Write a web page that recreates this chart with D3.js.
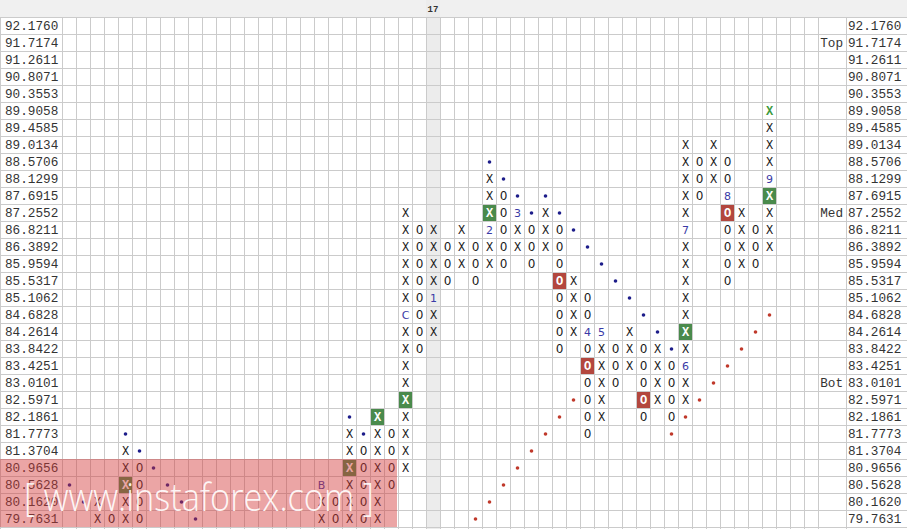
<!DOCTYPE html>
<html><head><meta charset="utf-8">
<script src="https://cdn.jsdelivr.net/npm/d3@7/dist/d3.min.js"></script>
<style>html,body{margin:0;padding:0;background:#fff}svg{display:block}</style>
</head><body>
<svg id="chart" width="907" height="529"></svg>
<script>
// ---- data ----
const priceLabels = ["92.1760","91.7174","91.2611","90.8071","90.3553","89.9058","89.4585","89.0134","88.5706","88.1299","87.6915","87.2552","86.8211","86.3892","85.9594","85.5317","85.1062","84.6828","84.2614","83.8422","83.4251","83.0101","82.5971","82.1861","81.7773","81.3704","80.9656","80.5628","80.1620","79.7631"];
const columnIds = d3.range(54);
const yearLabel = {col: 26, text: "17"};
// [column, type, high box, low box]
const pfColumns = [
  [2,"X","80.1620","79.7631"],[3,"O","79.7631","79.7631"],[4,"X","81.3704","79.7631"],[5,"O","80.9656","79.7631"],
  [18,"X","80.5628","79.7631"],[19,"O","80.1620","79.7631"],[20,"X","81.7773","79.7631"],[21,"O","81.3704","79.7631"],
  [22,"X","82.1861","79.7631"],[23,"O","81.7773","80.5628"],[24,"X","87.2552","80.9656"],[25,"O","86.8211","83.8422"],
  [26,"X","86.8211","84.2614"],[27,"O","86.3892","85.5317"],[28,"X","86.8211","85.9594"],[29,"O","86.3892","85.5317"],
  [30,"X","88.1299","85.9594"],[31,"O","87.6915","85.9594"],[32,"X","87.2552","86.3892"],[33,"O","86.8211","85.9594"],
  [34,"X","87.2552","86.3892"],[35,"O","86.8211","83.8422"],[36,"X","85.5317","84.2614"],[37,"O","85.1062","81.7773"],
  [38,"X","84.2614","82.1861"],[39,"O","83.8422","83.0101"],[40,"X","84.2614","83.4251"],[41,"O","83.8422","82.1861"],
  [42,"X","83.8422","82.5971"],[43,"O","83.4251","82.1861"],[44,"X","89.0134","82.5971"],[45,"O","88.5706","87.6915"],
  [46,"X","89.0134","88.1299"],[47,"O","88.5706","85.5317"],[48,"X","87.2552","85.9594"],[49,"O","86.8211","85.9594"],
  [50,"X","89.9058","86.3892"]
];
// month markers [column, box, label]
const monthMarks = [[18,"80.5628","B"],[24,"84.6828","C"],[26,"85.1062","1"],[30,"86.8211","2"],[32,"87.2552","3"],
  [37,"84.2614","4"],[38,"84.2614","5"],[44,"83.4251","6"],[44,"86.8211","7"],[47,"87.6915","8"],[50,"88.1299","9"]];
// signal boxes [column, box]
const buySignals = [[4,"80.5628"],[20,"80.9656"],[22,"82.1861"],[24,"82.5971"],[30,"87.2552"],[44,"84.2614"],[50,"87.6915"]];
const sellSignals = [[35,"85.5317"],[37,"83.4251"],[41,"82.5971"],[47,"87.2552"]];
const lastBox = [50,"89.9058"];
// trend line dots [column, box]
const resistanceDots = [[0,"80.5628"],[1,"80.1620"],[4,"81.7773"],[5,"81.3704"],[6,"80.9656"],[7,"80.5628"],[8,"80.1620"],[9,"79.7631"],
  [20,"82.1861"],[21,"81.7773"],[30,"88.5706"],[31,"88.1299"],[32,"87.6915"],[33,"87.2552"],
  [34,"87.6915"],[35,"87.2552"],[36,"86.8211"],[37,"86.3892"],[38,"85.9594"],[39,"85.5317"],[40,"85.1062"],[41,"84.6828"],[42,"84.2614"],[43,"83.8422"]];
const supportDots = [[29,"79.7631"],[30,"80.1620"],[31,"80.5628"],[32,"80.9656"],[33,"81.3704"],[34,"81.7773"],[35,"82.1861"],[36,"82.5971"],
  [43,"81.7773"],[44,"82.1861"],[45,"82.5971"],[46,"83.0101"],[47,"83.4251"],[48,"83.8422"],[49,"84.2614"],[50,"84.6828"]];
const levelTags = [["91.7174","Top"],["87.2552","Med"],["83.0101","Bot"]];
const watermarkText = "[ www.instaforex.com ]";

// ---- drawing ----
const W = 907, H = 529;
const svg = d3.select("#chart");
const x = d3.scaleBand().domain(columnIds).range([62, 818]);
const y = d3.scaleBand().domain(priceLabels).range([17, 527]);
const cw = x.bandwidth(), ch = y.bandwidth();
const mono = "'Liberation Mono','Courier New',monospace";

svg.append("rect").attr("width", W).attr("height", H).attr("fill", "#fff");
// header band
svg.append("rect").attr("x", 0).attr("y", 0).attr("width", W).attr("height", 17).attr("fill", "#f0f0f0");
// highlighted year column
svg.append("rect").attr("x", x(yearLabel.col)).attr("y", 0).attr("width", cw).attr("height", H).attr("fill", "#ececec");
svg.append("text").attr("x", x(yearLabel.col) + cw / 2).attr("y", 11.5).attr("text-anchor", "middle")
  .attr("font-family", mono).attr("font-size", 9).attr("font-weight", "bold").attr("fill", "#333").text(yearLabel.text);

// grid
const g = svg.append("g").attr("stroke", "#cbcbcb").attr("stroke-width", 1).attr("shape-rendering", "crispEdges");
const vx = columnIds.map(c => x(c)).concat([818, 846]);
g.selectAll("line.v").data(vx).join("line").attr("class", "v")
  .attr("x1", d => Math.floor(d) + 0.5).attr("x2", d => Math.floor(d) + 0.5).attr("y1", 17).attr("y2", H);
g.append("line").attr("x1", 0.5).attr("x2", 0.5).attr("y1", 17).attr("y2", H);
const hy = priceLabels.map(p => y(p)).concat([527]);
g.selectAll("line.h").data(hy).join("line").attr("class", "h")
  .attr("x1", 0).attr("x2", W).attr("y1", d => Math.floor(d) + 0.5).attr("y2", d => Math.floor(d) + 0.5);

// price labels
svg.append("g").selectAll("text").data(priceLabels).join("text")
  .attr("x", 5).attr("y", d => y(d) + ch / 2).attr("dy", "0.36em")
  .attr("font-family", mono).attr("font-size", 12.7).attr("fill", "#333").text(d => d);
svg.append("g").selectAll("text").data(priceLabels).join("text")
  .attr("x", 848).attr("y", d => y(d) + ch / 2).attr("dy", "0.36em")
  .attr("font-family", mono).attr("font-size", 12.7).attr("fill", "#333").text(d => d);
svg.append("g").selectAll("text").data(levelTags).join("text")
  .attr("x", 843).attr("y", d => y(d[0]) + ch / 2).attr("dy", "0.36em").attr("text-anchor", "end")
  .attr("font-family", mono).attr("font-size", 12.7).attr("fill", "#333").text(d => d[1]);

// build boxes
const key = (c, p) => c + "|" + p;
const marks = new Map(monthMarks.map(d => [key(d[0], d[1]), d[2]]));
const buys = new Set(buySignals.map(d => key(d[0], d[1])));
const sells = new Set(sellSignals.map(d => key(d[0], d[1])));
const cells = [];
pfColumns.forEach(([c, t, hi, lo]) => {
  const i0 = priceLabels.indexOf(hi), i1 = priceLabels.indexOf(lo);
  for (let i = i0; i <= i1; i++) {
    const p = priceLabels[i], k = key(c, p);
    let kind = "plain";
    if (marks.has(k)) kind = "mark";
    else if (buys.has(k)) kind = "buy";
    else if (sells.has(k)) kind = "sell";
    else if (c === lastBox[0] && p === lastBox[1]) kind = "last";
    cells.push({c, p, t, kind, label: marks.get(k)});
  }
});

// signal backgrounds
svg.append("g").selectAll("rect").data(cells.filter(d => d.kind === "buy" || d.kind === "sell")).join("rect")
  .attr("x", d => Math.floor(x(d.c)) + 1).attr("y", d => Math.floor(y(d.p)) + 1)
  .attr("width", Math.round(cw) - 1).attr("height", Math.round(ch) - 1)
  .attr("fill", d => d.kind === "buy" ? "#4a8a4c" : "#b3473e");

// box glyphs
svg.append("g").selectAll("text").data(cells).join("text")
  .attr("x", d => x(d.c) + cw / 2 + 0.5).attr("y", d => y(d.p) + ch / 2 + 0.5).attr("dy", "0.36em")
  .attr("text-anchor", "middle")
  .attr("font-family", d => d.kind === "mark" ? "'DejaVu Sans',sans-serif" : mono)
  .attr("font-size", d => d.kind === "mark" ? 11 : 12)
  .attr("font-weight", d => (d.kind === "buy" || d.kind === "sell" || d.kind === "last") ? "bold" : "normal")
  .attr("fill", d => d.kind === "mark" ? "#3a3aa6" : (d.kind === "buy" || d.kind === "sell") ? "#fff" : d.kind === "last" ? "#3c9a3c" : "#1a1a1a")
  .text(d => d.kind === "mark" ? d.label : d.t);

// trend dots
svg.append("g").selectAll("circle").data(resistanceDots).join("circle")
  .attr("cx", d => x(d[0]) + cw / 2 + 0.5).attr("cy", d => y(d[1]) + ch / 2 + 0.5).attr("r", 1.8).attr("fill", "#1d1d8a");
svg.append("g").selectAll("circle").data(supportDots).join("circle")
  .attr("cx", d => x(d[0]) + cw / 2 + 0.5).attr("cy", d => y(d[1]) + ch / 2 + 0.5).attr("r", 1.8).attr("fill", "#c0392b");

// watermark
svg.append("rect").attr("x", 0).attr("y", y("80.9656")).attr("width", 397).attr("height", 527 - y("80.9656"))
  .attr("fill", "rgb(210,55,55)").attr("fill-opacity", 0.45);
svg.append("text").attr("x", 24).attr("y", 511).attr("textLength", 350).attr("lengthAdjust", "spacingAndGlyphs")
  .attr("font-family", "'Open Sans','Noto Sans',sans-serif").attr("font-size", 39).attr("font-weight", 300)
  .attr("fill", "#fff").attr("fill-opacity", 0.92)
  .text(watermarkText);
</script>
</body></html>
